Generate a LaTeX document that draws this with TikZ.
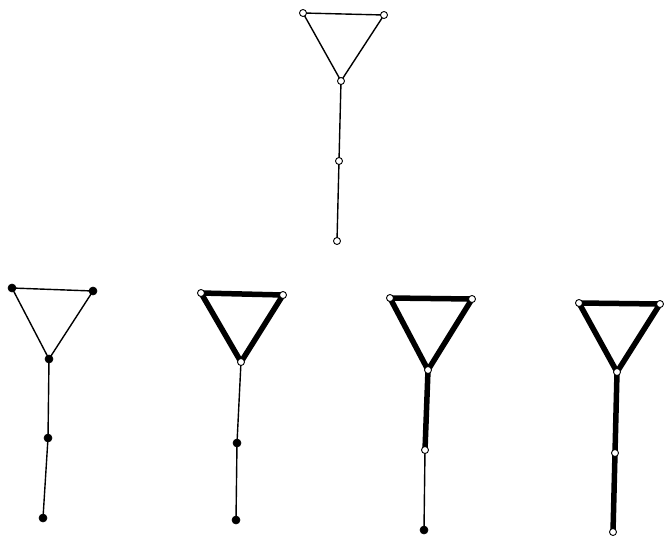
\documentclass[tikz,border=0pt]{standalone}
\begin{document}
\begin{tikzpicture}[x=1pt,y=-1pt,
  wv/.style={circle,draw,fill=white,line width=0.9pt,inner sep=0pt,minimum size=7pt},
  bv/.style={circle,draw,fill=black,line width=0.6pt,inner sep=0pt,minimum size=8pt},
  thinedge/.style={line width=1.4pt},
  thickedge/.style={line width=5.5pt}]
\useasboundingbox (0,0) rectangle (664,538);
% top graph
\coordinate (a1) at (303,13);
\coordinate (a2) at (384,15);
\coordinate (a3) at (341,81);
\coordinate (a4) at (339,161);
\coordinate (a5) at (337,241);
\draw[thinedge] (a1) -- (a2) -- (a3) -- cycle;
\draw[thinedge] (a3) -- (a4) -- (a5);
\foreach \v in {a1,a2,a3,a4,a5} \node[wv] at (\v) {};
% graph 1
\coordinate (b1) at (12,288);
\coordinate (b2) at (93,291);
\coordinate (b3) at (49,359);
\coordinate (b4) at (48,438);
\coordinate (b5) at (43,518);
\draw[thinedge] (b1) -- (b2) -- (b3) -- cycle;
\draw[thinedge] (b3) -- (b4) -- (b5);
\foreach \v in {b1,b2,b3,b4,b5} \node[bv] at (\v) {};
% graph 2
\coordinate (c1) at (201,293);
\coordinate (c2) at (283,295);
\coordinate (c3) at (241,362);
\coordinate (c4) at (237,443);
\coordinate (c5) at (236,520);
\draw[thickedge,line join=round] (c1) -- (c2) -- (c3) -- cycle;
\draw[thinedge] (c3) -- (c4) -- (c5);
\foreach \v in {c1,c2,c3} \node[wv] at (\v) {};
\foreach \v in {c4,c5} \node[bv] at (\v) {};
% graph 3
\coordinate (d1) at (390,298);
\coordinate (d2) at (472,299);
\coordinate (d3) at (428,370);
\coordinate (d4) at (425,450);
\coordinate (d5) at (424,530);
\draw[thickedge,line join=round] (d1) -- (d2) -- (d3) -- cycle;
\draw[thickedge] (d3) -- (d4);
\draw[thinedge] (d4) -- (d5);
\foreach \v in {d1,d2,d3,d4} \node[wv] at (\v) {};
\node[bv] at (d5) {};
% graph 4
\coordinate (e1) at (579,303);
\coordinate (e2) at (660,304);
\coordinate (e3) at (617,372);
\coordinate (e4) at (615,453);
\coordinate (e5) at (613,532);
\draw[thickedge,line join=round] (e1) -- (e2) -- (e3) -- cycle;
\draw[thickedge] (e3) -- (e4) -- (e5);
\foreach \v in {e1,e2,e3,e4,e5} \node[wv] at (\v) {};
\end{tikzpicture}
\end{document}
